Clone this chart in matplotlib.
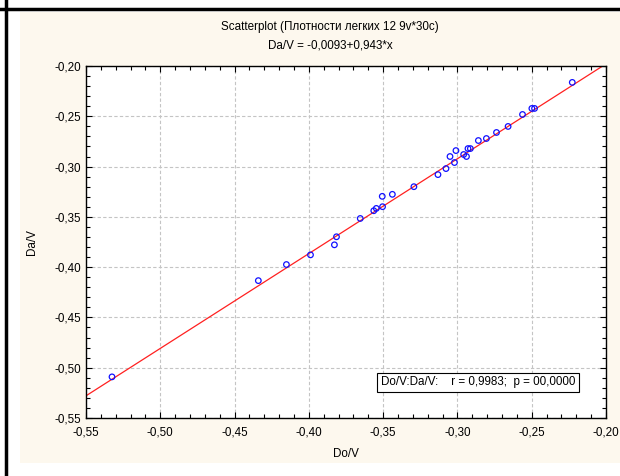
import matplotlib
matplotlib.use('Agg')
import matplotlib.pyplot as plt
from matplotlib.lines import Line2D
from matplotlib.patches import Rectangle
from matplotlib.ticker import MultipleLocator, FuncFormatter

plt.rcParams['font.family'] = ['Liberation Sans', 'DejaVu Sans']

do_v = [-0.5325, -0.4340, -0.4151, -0.3989, -0.3828, -0.3814, -0.3654,
        -0.3563, -0.3546, -0.3504, -0.3506, -0.3438, -0.3293, -0.3131,
        -0.3077, -0.3020, -0.3050, -0.3010, -0.2958, -0.2939, -0.2929,
        -0.2913, -0.2859, -0.2805, -0.2737, -0.2659, -0.2562, -0.2499,
        -0.2481, -0.2227]
da_v = [-0.5091, -0.4134, -0.3974, -0.3878, -0.3778, -0.3698, -0.3516,
        -0.3439, -0.3416, -0.3399, -0.3296, -0.3276, -0.3200, -0.3080,
        -0.3020, -0.2960, -0.2900, -0.2841, -0.2880, -0.2900, -0.2821,
        -0.2821, -0.2741, -0.2721, -0.2661, -0.2601, -0.2482, -0.2422,
        -0.2422, -0.2163]
intercept = -0.0093
slope = 0.943
x_range = [-0.55, -0.20]
y_range = [-0.55, -0.20]

W, H = 620, 476
fs = 8.4
fig = plt.figure(figsize=(W / 100, H / 100), dpi=100)
fig.patch.set_facecolor('white')

# cream panel and black frame lines
fig.add_artist(Rectangle((20 / W, 1 - 463 / H), 600 / W, 451 / H,
                         transform=fig.transFigure, facecolor='#fdf8ee',
                         edgecolor='none', zorder=0))
fig.add_artist(Line2D([5.5 / W, 5.5 / W], [0, 1], transform=fig.transFigure,
                      color='black', lw=2.5))
fig.add_artist(Line2D([0, 1], [1 - 9 / H, 1 - 9 / H], transform=fig.transFigure,
                      color='black', lw=2.5))

ax = fig.add_axes([86 / W, 1 - 418 / H, 520 / W, 352 / H])
ax.set_facecolor('white')

ax.scatter(do_v, da_v, s=16, facecolors='none', edgecolors='#1010ff',
           linewidths=0.9, zorder=3)
ax.plot(x_range, [intercept + slope * v for v in x_range], color='#ff2020',
        lw=0.9, zorder=2)

ax.set_xlim(x_range)
ax.set_ylim(y_range)
ax.xaxis.set_major_locator(MultipleLocator(0.05))
ax.xaxis.set_minor_locator(MultipleLocator(0.01))
ax.yaxis.set_major_locator(MultipleLocator(0.05))
ax.yaxis.set_minor_locator(MultipleLocator(0.01))
fmt = FuncFormatter(lambda v, p: f'{v:.2f}'.replace('.', ','))
ax.xaxis.set_major_formatter(fmt)
ax.yaxis.set_major_formatter(fmt)
ax.tick_params(which='both', direction='in', top=True, right=True,
               labelsize=fs, width=0.8, colors='black')
ax.tick_params(which='major', length=4)
ax.tick_params(which='minor', length=3)
ax.tick_params(axis='x', pad=6)
ax.grid(True, which='major', linestyle=(0, (3, 2)), color='#c4c4c4', lw=0.8)
for s in ax.spines.values():
    s.set_linewidth(1.0)

ax.set_xlabel('Do/V', fontsize=fs, labelpad=7)
ax.set_ylabel('Da/V', fontsize=fs, labelpad=12)

fig.text(330 / W, 1 - 27 / H, 'Scatterplot (Плотности легких 12 9v*30c)',
         ha='center', va='center', fontsize=fs)
fig.text(330 / W, 1 - 46 / H, 'Da/V = -0,0093+0,943*x',
         ha='center', va='center', fontsize=fs)

ax.text(0.7538, 0.101, 'Do/V:Da/V:    r = 0,9983;  p = 00,0000',
        transform=ax.transAxes, ha='center', va='center', fontsize=fs,
        zorder=5,
        bbox=dict(boxstyle='square,pad=0.3', facecolor='white',
                  edgecolor='black', lw=0.8))

fig.savefig('out.png', dpi=100)
